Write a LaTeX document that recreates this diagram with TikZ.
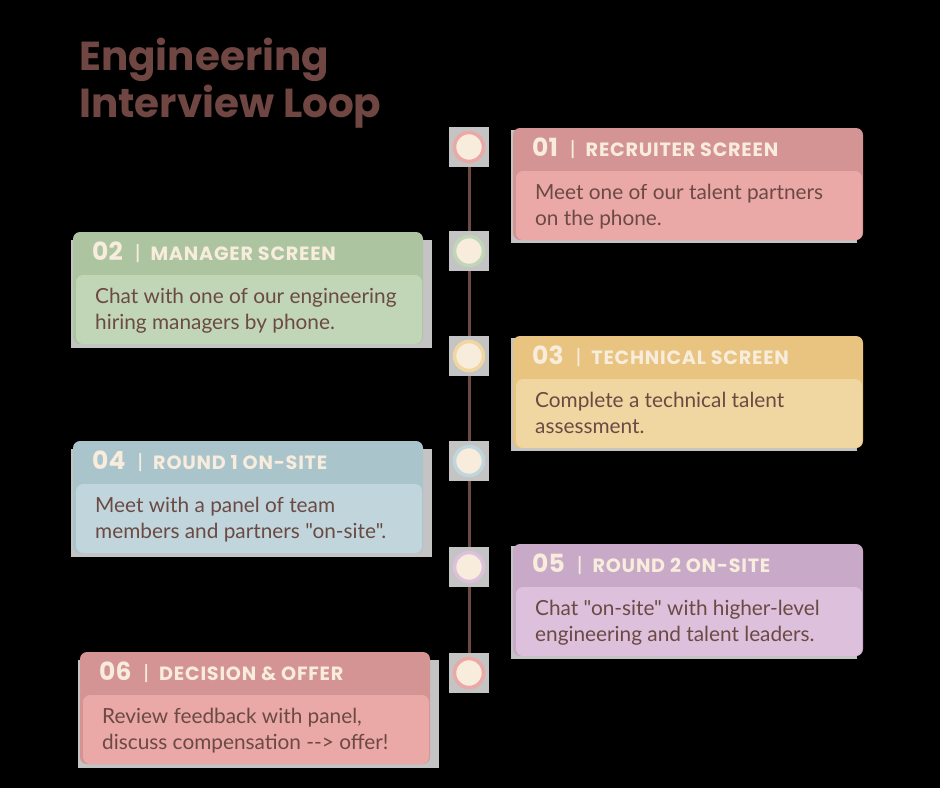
\documentclass[tikz,border=0pt]{standalone}
\usepackage{fontspec}
\setmainfont{Lato}
\newfontfamily\bodyfont{Lato}
\newfontfamily\titlefont{Poppins}
\newfontfamily\headfont[LetterSpace=4]{Poppins}
\newfontfamily\numfont{Poppins}
\definecolor{cream}{HTML}{F8ECDC}
\definecolor{brownink}{HTML}{6B4A44}
\definecolor{titlecol}{HTML}{6F4642}
\definecolor{halo}{HTML}{C4C4C4}
\definecolor{pinkH}{HTML}{D49494}
\definecolor{pinkB}{HTML}{EAA8A6}
\definecolor{greenH}{HTML}{ACC4A0}
\definecolor{greenB}{HTML}{C1D6B6}
\definecolor{yellowH}{HTML}{E8C480}
\definecolor{yellowB}{HTML}{F0D6A0}
\definecolor{blueH}{HTML}{AAC4CC}
\definecolor{blueB}{HTML}{C0D6DC}
\definecolor{purpleH}{HTML}{C8AAC8}
\definecolor{purpleB}{HTML}{DCC0DC}
\tikzset{
  headtext/.style={anchor=base west, text=cream, inner sep=0pt},
  bodytext/.style={anchor=base west, text=brownink, inner sep=0pt, font=\bodyfont\fontsize{20.8}{22}\selectfont},
  titletext/.style={anchor=base west, text=titlecol, inner sep=0pt, font=\titlefont\bfseries\fontsize{40.5}{44}\selectfont},
  dot/.style={circle, fill=cream, line width=3.5pt, minimum size=29pt, inner sep=0pt},
  sq/.style={rectangle, fill=halo, minimum size=40pt, inner sep=0pt},
  tl/.style={draw=brownink, line width=3pt}
}
\newcommand\cardR[9]{%
  \fill[halo] (#2-2,#3+2) rectangle (#2+344,#3+115);
  \cardcore{#1}{#2}{#3}{#4}{#5}{#6}{#7}{#8}{#9}}
\newcommand\cardL[9]{%
  \fill[halo] (#2-2,#3+8) rectangle (#2+359,#3+116);
  \cardcore{#1}{#2}{#3}{#4}{#5}{#6}{#7}{#8}{#9}}
\newcommand\cardcore[9]{%
  \fill[#4, rounded corners=7pt] (#2,#3) rectangle (#2+350,#3+112);
  \fill[#5, rounded corners=7pt] (#2+3,#3+43) rectangle (#2+349,#3+112);
  \node[headtext] (#1h) at (#2+19,#3+28) {\numfont\bfseries\fontsize{25}{25}\selectfont #6\hspace{12pt}{\mdseries\fontsize{20}{20}\selectfont|}\hspace{10pt}\headfont\bfseries\fontsize{19.2}{19}\selectfont #7};
  \node[bodytext] (#1a) at (#2+22,#3+71) {#8};
  \node[bodytext] (#1b) at (#2+22,#3+97) {#9};
}
\begin{document}
\begin{tikzpicture}[x=1pt,y=-1pt]
\fill[black] (0,0) rectangle (940,788);
\useasboundingbox (0,0) rectangle (940,788);

\node[titletext] (title1) at (79,70) {Engineering};
\node[titletext] (title2) at (79,117) {Interview Loop};

\coordinate (p1) at (469,147);
\coordinate (p2) at (469,251);
\coordinate (p3) at (469,356);
\coordinate (p4) at (469,461);
\coordinate (p5) at (469,567);
\coordinate (p6) at (469,673);
\draw[tl] (p1) -- (p6);

\foreach \i in {1,...,6} { \node[sq] (s\i) at (p\i) {}; }
\node[dot, draw=pinkB] (c1) at (p1) {};
\node[dot, draw=greenB] (c2) at (p2) {};
\node[dot, draw=yellowB] (c3) at (p3) {};
\node[dot, draw=blueB] (c4) at (p4) {};
\node[dot, draw=purpleB] (c5) at (p5) {};
\node[dot, draw=pinkB] (c6) at (p6) {};

\cardR{k1}{513}{128}{pinkH}{pinkB}{01}{RECRUITER SCREEN}{Meet one of our talent partners}{on the phone.}
\cardL{k2}{73}{232}{greenH}{greenB}{02}{MANAGER SCREEN}{Chat with one of our engineering}{hiring managers by phone.}
\cardR{k3}{513}{336}{yellowH}{yellowB}{03}{TECHNICAL SCREEN}{Complete a technical talent}{assessment.}
\cardL{k4}{73}{441}{blueH}{blueB}{04}{ROUND 1 ON-SITE}{Meet with a panel of team}{members and partners "on-site".}
\cardR{k5}{513}{544}{purpleH}{purpleB}{05}{ROUND 2 ON-SITE}{Chat "on-site" with higher-level}{engineering and talent leaders.}
\cardL{k6}{80}{652}{pinkH}{pinkB}{06}{DECISION \& OFFER}{Review feedback with panel,}{discuss compensation --> offer!}
\end{tikzpicture}
\end{document}
